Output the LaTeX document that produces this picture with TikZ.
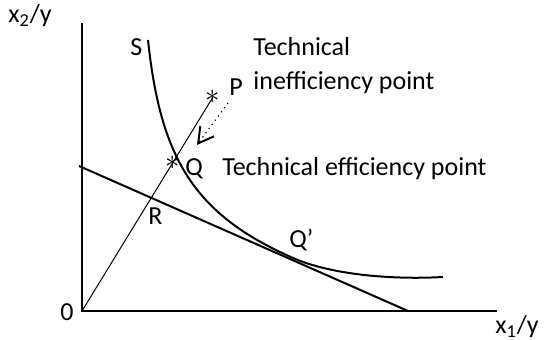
\documentclass[tikz,border=0pt]{standalone}
\usepackage{fontspec}
\setmainfont{Carlito}
\usetikzlibrary{arrows.meta}
\tikzset{lbl/.style={font=\fontsize{13}{17}\selectfont,inner sep=0pt,anchor=base west},
  thickline/.style={line width=1pt},
  starmark/.style={inner sep=0pt,font=\fontsize{15}{15}\selectfont}}

\begin{document}
\begin{tikzpicture}[x=0.5pt,y=0.5pt]
\useasboundingbox (0,0) rectangle (544,340);
% axes
\coordinate (O) at (82,29);
\coordinate (ytop) at (82,317);
\coordinate (xend) at (497,29);
\draw[thickline] (ytop) -- (O) -- (xend);
\node[lbl] (ylab) at (8,317) {x\textsubscript{2}/y};
\node[lbl] (xlab) at (495,6) {x\textsubscript{1}/y};
\node[lbl] (zero) at (60,19) {0};
% budget line
\coordinate (bl) at (79,174);
\coordinate (br) at (408,29);
\draw[thickline] (bl) -- (br);
% isoquant S
\draw[thickline] (148,300) .. controls (160.5,182.5) and (193,126) .. (293,82)
  .. controls (330,65.7) and (390,60) .. (443,63);
% ray from origin
\node[starmark] (P) at (213,243) {$\ast$};
\node[starmark] (Q) at (173,177) {$\ast$};
\draw[line width=0.5pt] (O) -- (P.center);
% dotted arrow P -> Q
\coordinate (arrstart) at (228,237);
\coordinate (arrend) at (197,195);
\draw[dotted,line width=0.6pt,-{Straight Barb[length=7.5pt,width=8.5pt,line width=1pt]}] (arrstart) -- (arrend);
% labels
\node[lbl] (Slab) at (130,284) {S};
\node[lbl] (Plab) at (229,244) {P};
\node[lbl] (tech1) at (253,284) {Technical};
\node[lbl] (tech2) at (253,250) {inefficiency point};
\node[lbl] (Qlab) at (185,164) {Q};
\node[lbl] (tech3) at (222,164) {Technical efficiency point};
\node[lbl] (Rlab) at (148,115) {R};
\node[lbl] (Qplab) at (289,92) {Q’};
\end{tikzpicture}
\end{document}
